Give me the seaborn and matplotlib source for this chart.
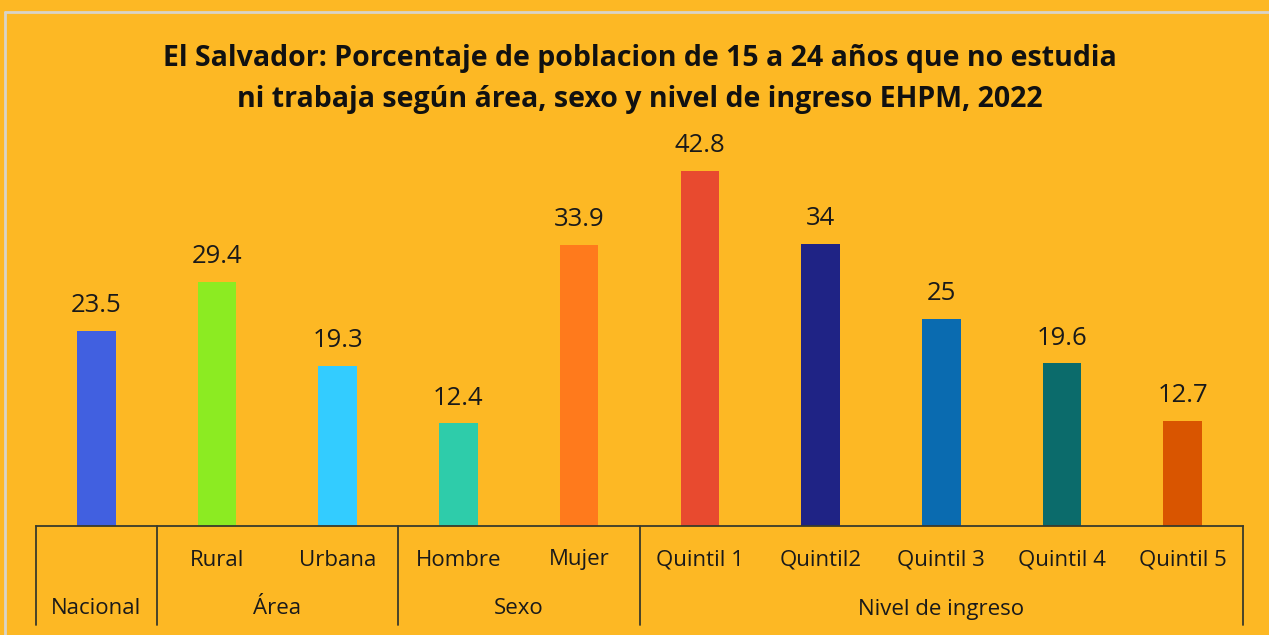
import matplotlib
matplotlib.use("Agg")
import matplotlib.pyplot as plt
import matplotlib.transforms as mtransforms
import seaborn as sns
import pandas as pd

# data
categories = ["Nacional", "Rural", "Urbana", "Hombre", "Mujer",
              "Quintil 1", "Quintil2", "Quintil 3", "Quintil 4", "Quintil 5"]
values = [23.5, 29.4, 19.3, 12.4, 33.9, 42.8, 34, 25, 19.6, 12.7]
value_labels = ["23.5", "29.4", "19.3", "12.4", "33.9", "42.8", "34", "25", "19.6", "12.7"]
groups = ["Nacional", "Área", "Área", "Sexo", "Sexo",
          "Nivel de ingreso", "Nivel de ingreso", "Nivel de ingreso",
          "Nivel de ingreso", "Nivel de ingreso"]
bar_colors = ["#4160E0", "#8CEB22", "#33CCFF", "#2ECCAA", "#FF7A1C",
              "#E84A2F", "#1F2385", "#0A6BB0", "#0B6B6B", "#D95500"]

title = ("El Salvador: Porcentaje de poblacion de 15 a 24 años que no estudia\n"
         "ni trabaja según área, sexo y nivel de ingreso EHPM, 2022")

bg = "#FDB824"

df = pd.DataFrame({"cat": categories, "val": values, "grp": groups})

sns.set_style("white")
plt.rcParams["font.family"] = ["Open Sans", "DejaVu Sans"]

W, H = 1269, 635
fig = plt.figure(figsize=(W / 100, H / 100), dpi=100, facecolor=bg)
ax_left, ax_right, ax_bot, ax_top = 36, 1243, 526, 111
ax = fig.add_axes([ax_left / W, 1 - ax_bot / H, (ax_right - ax_left) / W, (ax_bot - ax_top) / H])
ax.set_facecolor(bg)

palette = dict(zip(categories, bar_colors))
sns.barplot(data=df, x="cat", y="val", hue="cat", palette=palette, order=categories,
            width=0.32, saturation=1, legend=False, linewidth=0, ax=ax)

ax.set_xlim(-0.5, len(categories) - 0.5)
ax.set_ylim(0, 50)
ax.set_xlabel("")
ax.set_ylabel("")
ax.set_xticks([])
ax.set_yticks([])
for s in ["top", "right", "left"]:
    ax.spines[s].set_visible(False)
ax.spines["bottom"].set_color("#3a3a2a")
ax.spines["bottom"].set_linewidth(1.3)

# value labels
for i, (v, lab) in enumerate(zip(values, value_labels)):
    ax.annotate(lab, (i, v), xytext=(0, 9), textcoords="offset points",
                ha="center", va="bottom", fontsize=18.5, color="#1a1a1a")

# multi-level category axis
trans = mtransforms.blended_transform_factory(ax.transData, ax.transAxes)
axh = ax_bot - ax_top
row1_y = -(560 - ax_bot) / axh
row2_y = -(609 - ax_bot) / axh
line_bot = -(625 - ax_bot) / axh

for i, (c, g) in enumerate(zip(categories, groups)):
    if c != g:
        ax.text(i, row1_y, c, transform=trans, ha="center", va="center",
                fontsize=16, color="#1a1a1a")

# group labels and dividers
group_names = []
for g in groups:
    if g not in group_names:
        group_names.append(g)
edges = [-0.5]
for g in group_names:
    idx = [i for i, gg in enumerate(groups) if gg == g]
    ax.text((idx[0] + idx[-1]) / 2, row2_y, g, transform=trans, ha="center",
            va="center", fontsize=16, color="#1a1a1a")
    edges.append(idx[-1] + 0.5)
for e in edges:
    ax.plot([e, e], [0, line_bot], transform=trans, color="#3a3a2a",
            lw=1.3, clip_on=False)

fig.text(640 / W, 1 - 79 / H, title, ha="center", va="center", fontsize=20.5,
         fontweight="bold", color="#111111", linespacing=1.58)

# thin light frame seen at top/left of the reference
fig.add_artist(plt.Line2D([5 / W, 1], [1 - 12 / H, 1 - 12 / H], color="#d8d4c8", lw=2,
                          transform=fig.transFigure))
fig.add_artist(plt.Line2D([5 / W, 5 / W], [0, 1 - 12 / H], color="#d8d4c8", lw=2,
                          transform=fig.transFigure))

fig.savefig("out.png", dpi=100, facecolor=bg)
